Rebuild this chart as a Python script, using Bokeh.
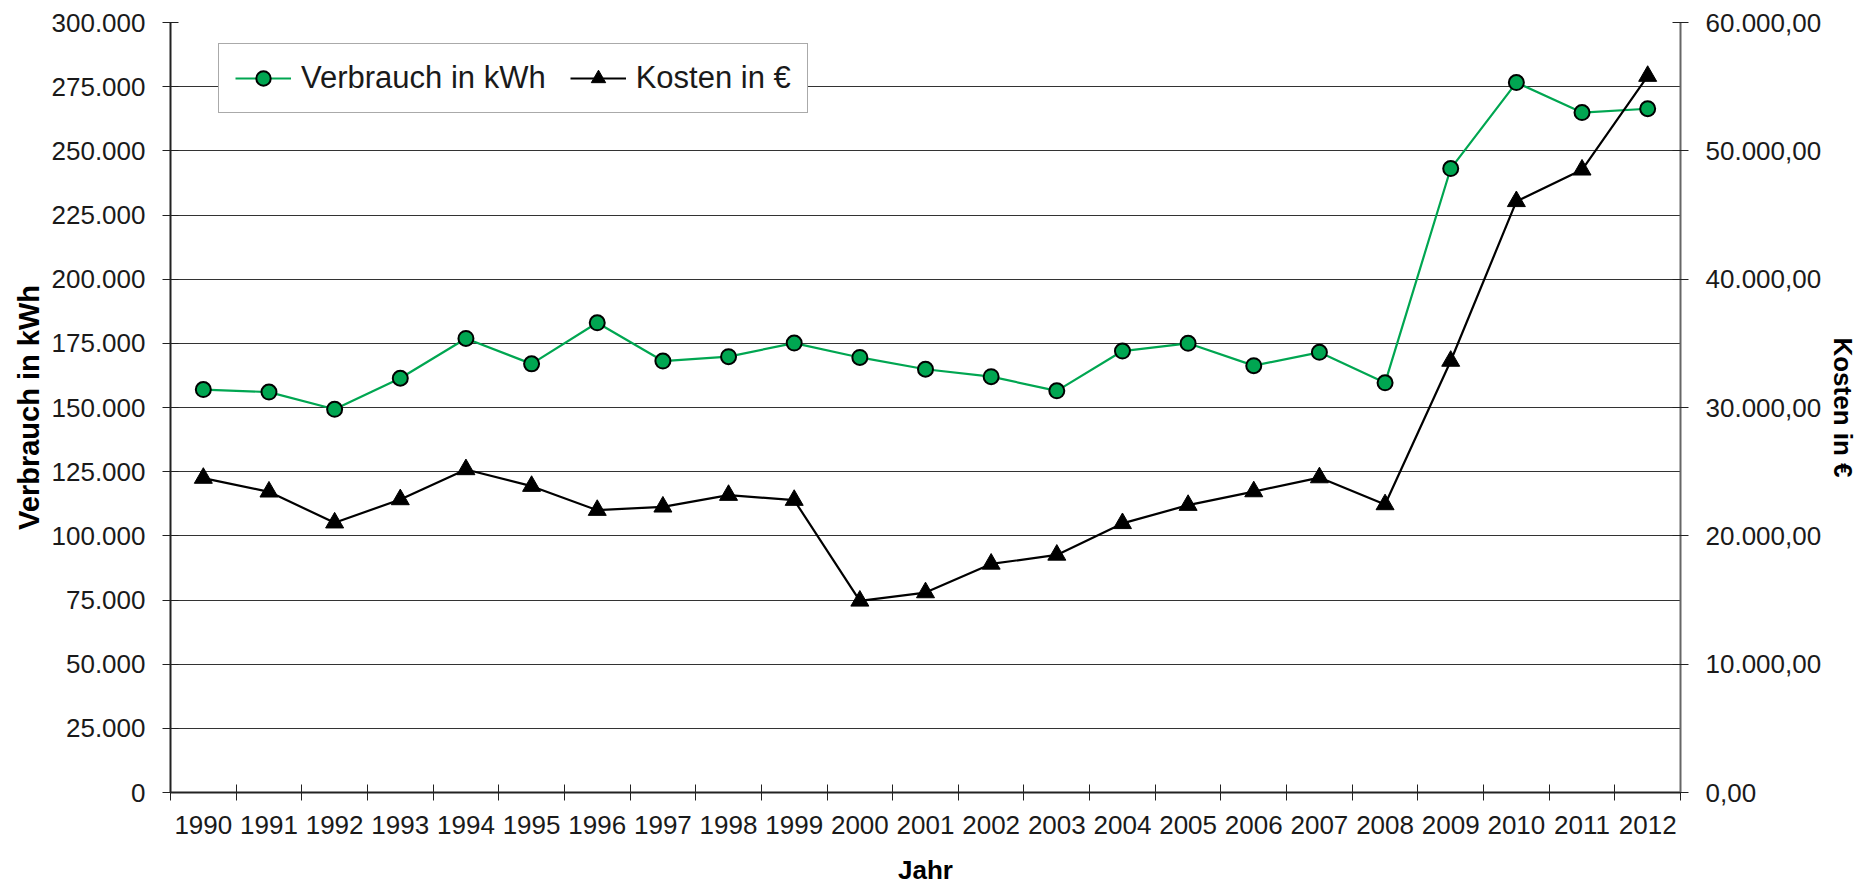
from bokeh.plotting import figure
from bokeh.models import Range1d, LinearAxis, FixedTicker, Legend, LegendItem
from bokeh.embed import file_html
from bokeh.resources import INLINE

# ---- data ----
years = [str(y) for y in range(1990, 2013)]
verbrauch_kwh = [157000, 156000, 149300, 161400, 176900, 167000, 183000, 168100,
                 169800, 175100, 169500, 164900, 162000, 156500, 172000, 175000,
                 166300, 171500, 159600, 243100, 276600, 264900, 266400]
kosten_eur = [24500, 23430, 21020, 22830, 25170, 23870, 22000, 22260,
              23170, 22780, 14930, 15580, 17810, 18510, 20970, 22390,
              23450, 24540, 22440, 33620, 46060, 48520, 55820]
left_ticks = list(range(0, 300001, 25000))
right_ticks = list(range(0, 60001, 10000))


def de_int(v):
    return f"{v:,}".replace(",", ".")


def de_dec(v):
    return f"{v:,.2f}".replace(",", "X").replace(".", ",").replace("X", ".")


GREEN = "#00a651"
FONT = "Liberation Sans"
TXT = "#1a1a1a"

n = len(years)
xs = [i + 0.5 for i in range(n)]

p = figure(width=1862, height=887,
           x_range=Range1d(0, n), y_range=Range1d(left_ticks[0], left_ticks[-1]),
           output_backend="svg", toolbar_location=None,
           min_border_left=170, min_border_right=182,
           min_border_top=22, min_border_bottom=94)
p.extra_y_ranges = {"kosten": Range1d(right_ticks[0], right_ticks[-1])}
p.outline_line_color = None
p.background_fill_color = "white"

# x axis
xa = p.xaxis[0]
xa.ticker = FixedTicker(ticks=xs, minor_ticks=list(range(n + 1)))
xa.major_label_overrides = {x: y for x, y in zip(xs, years)}
xa.major_tick_line_color = None
xa.minor_tick_in = 8
xa.minor_tick_out = 8
xa.minor_tick_line_color = "#222222"
xa.minor_tick_line_width = 1
xa.axis_line_color = "#222222"
xa.axis_line_width = 2
xa.major_label_text_font = FONT
xa.major_label_text_font_size = "26px"
xa.major_label_text_color = TXT
xa.major_label_standoff = 15
xa.axis_label = "Jahr"
xa.axis_label_text_font = FONT
xa.axis_label_text_font_size = "26px"
xa.axis_label_text_font_style = "bold"
xa.axis_label_text_color = "black"
xa.axis_label_standoff = 18

# left axis
ya = p.yaxis[0]
ya.ticker = FixedTicker(ticks=left_ticks)
ya.major_label_overrides = {t: de_int(t) for t in left_ticks}
ya.major_tick_in = 8
ya.major_tick_out = 8
ya.major_tick_line_color = "#222222"
ya.minor_tick_line_color = None
ya.axis_line_color = "#222222"
ya.axis_line_width = 2
ya.major_label_text_font = FONT
ya.major_label_text_font_size = "26px"
ya.major_label_text_color = TXT
ya.major_label_standoff = 17
ya.axis_label = "Verbrauch in kWh"
ya.axis_label_text_font = FONT
ya.axis_label_text_font_size = "29px"
ya.axis_label_text_font_style = "bold"
ya.axis_label_text_color = "black"
ya.axis_label_standoff = 4

# right axis
ra = LinearAxis(y_range_name="kosten", ticker=FixedTicker(ticks=right_ticks))
ra.major_label_overrides = {t: de_dec(t) for t in right_ticks}
ra.major_tick_in = 8
ra.major_tick_out = 8
ra.major_tick_line_color = "#222222"
ra.minor_tick_line_color = None
ra.axis_line_color = "#666666"
ra.axis_line_width = 2
ra.major_label_text_font = FONT
ra.major_label_text_font_size = "26px"
ra.major_label_text_color = TXT
ra.major_label_standoff = 17
ra.axis_label = "Kosten in €"
ra.axis_label_text_font = FONT
ra.axis_label_text_font_size = "26px"
ra.axis_label_text_font_style = "bold"
ra.axis_label_text_color = "black"
ra.axis_label_standoff = 4
p.add_layout(ra, "right")

# grid
p.xgrid.visible = False
p.ygrid.ticker = FixedTicker(ticks=left_ticks)
p.ygrid.grid_line_color = "#333333"
p.ygrid.grid_line_width = 1

# series
r1 = p.line(xs, verbrauch_kwh, line_color=GREEN, line_width=2.2)
r2 = p.scatter(xs, verbrauch_kwh, marker="circle", size=15, fill_color=GREEN,
               line_color="black", line_width=2)
r3 = p.line(xs, kosten_eur, y_range_name="kosten", line_color="black", line_width=2.2)
r4 = p.scatter(xs, kosten_eur, y_range_name="kosten", marker="triangle", size=18,
               fill_color="black", line_color="black", line_width=1)

legend = Legend(items=[LegendItem(label="Verbrauch in kWh", renderers=[r1, r2]),
                       LegendItem(label="Kosten in €", renderers=[r3, r4])],
                location=(48, 679), orientation="horizontal")
legend.label_text_font = FONT
legend.label_text_font_size = "31px"
legend.label_text_color = TXT
legend.glyph_width = 56
legend.glyph_height = 36
legend.label_standoff = 10
legend.spacing = 24
legend.padding = 16
legend.margin = 0
legend.border_line_color = "#555555"
legend.border_line_width = 1
legend.background_fill_alpha = 1
p.add_layout(legend)

open("out.html", "w").write(file_html(p, INLINE))
